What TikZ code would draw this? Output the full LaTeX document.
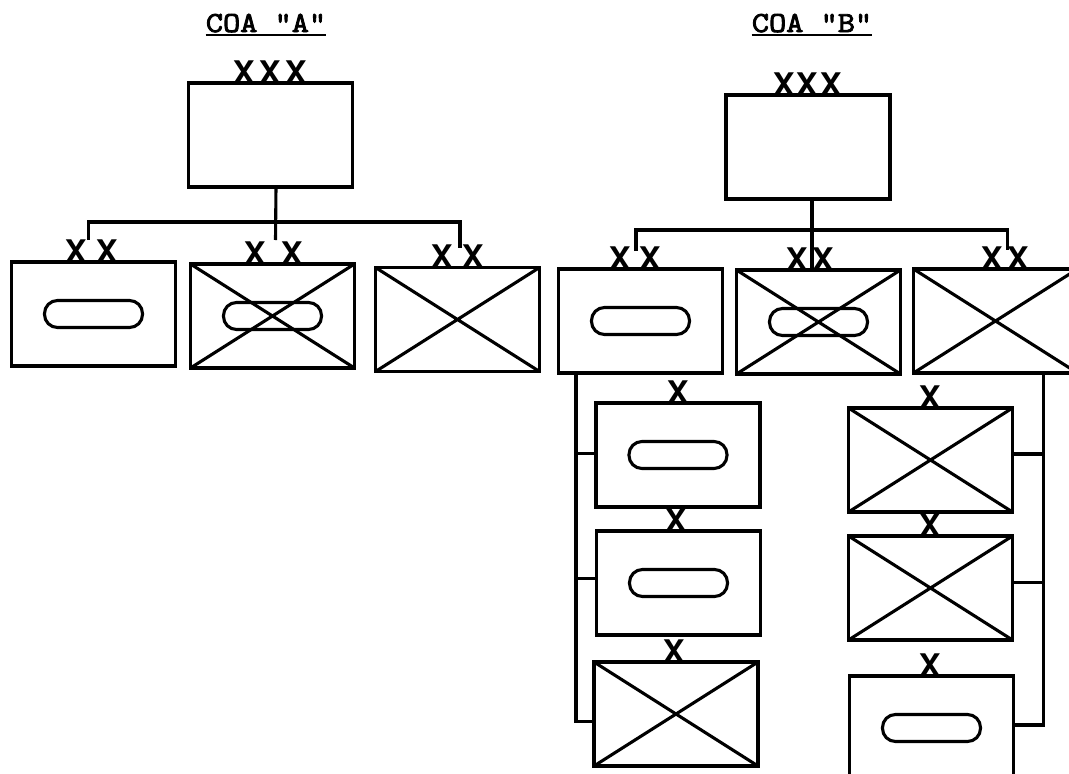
\documentclass[tikz,border=0pt]{standalone}
\usepackage{fontspec}
\usepackage{tikz}
\usetikzlibrary{positioning}
\newfontfamily\echfont{Liberation Mono}
\newfontfamily\coafont{Latin Modern Mono}[FakeBold=3, FakeStretch=1.15]

\newcommand\unitcross{%
  \draw[line width=3.1pt] (path picture bounding box.north west) -- (path picture bounding box.south east)
    (path picture bounding box.south west) -- (path picture bounding box.north east);}
\newcommand\unitoval{%
  \draw[line width=3.1pt, rounded corners=13pt] ([xshift=-49pt,yshift=-13.5pt]path picture bounding box.center)
    rectangle ([xshift=49pt,yshift=13.5pt]path picture bounding box.center);}

\begin{document}
\begin{tikzpicture}[
        x=1pt, y=-1pt,
        unit/.style={
            rectangle, draw, line width=3.2pt,
            minimum width=164pt, minimum height=104pt, inner sep=0pt, outer sep=0pt
        },
        inf/.style={unit, path picture={\unitcross}},
        arm/.style={unit, path picture={\unitoval}},
        mech/.style={unit, path picture={\unitcross\unitoval}},
        ech/.style={font=\echfont\bfseries\fontsize{36}{36}\selectfont, inner sep=0pt, anchor=base},
        title/.style={font=\coafont\fontsize{29}{32}\selectfont, inner sep=0pt, anchor=base},
        line/.style={draw=black, line width=3.1pt}
    ]

    \path[use as bounding box] (0,0) rectangle (1069,774);
    \clip (0,0) rectangle (1069,774);

    % TITLES
    \node[title] (titleA) at (266,32) {COA "A"};
    \node[title] (titleB) at (812,32) {COA "B"};
    \draw[line width=2.2pt] ([yshift=-3pt]titleA.base west) -- ([yshift=-3pt]titleA.base east);
    \draw[line width=2.2pt] ([yshift=-3pt]titleB.base west) -- ([yshift=-3pt]titleB.base east);

    % COA A
    \node[unit] (hqA) at (270.5,135) {};
    \node[mech, below=77pt of hqA, xshift=2pt] (a2) {};
    \node[arm, left=15pt of a2, yshift=2pt] (a1) {};
    \node[inf, right=21pt of a2, yshift=-3.5pt] (a3) {};

    % COA B
    \node[unit] (hqB) at (808,147) {};
    \node[mech, below=71pt of hqB, xshift=10.5pt] (b2) {};
    \node[arm, left=14pt of b2, yshift=1pt] (b1) {};
    \node[inf, right=13pt of b2, yshift=1pt] (b3) {};

    % COA B: ATTACHED UNITS
    \node[arm, below=30pt of b1, xshift=37.5pt] (c1) {};
    \node[arm, below=24pt of c1, xshift=0.5pt] (c2) {};
    \node[inf, below=27pt of c2, xshift=-2.5pt] (c3) {};
    \node[inf, below=35pt of b3, xshift=-65pt] (d1) {};
    \node[inf, below=24pt of d1] (d2) {};
    \node[arm, below=36pt of d2, xshift=1pt] (d3) {};

    % ECHELON MARKS
    \foreach \u/\dx [count=\i] in {hqA/-26, hqA/0, hqA/26, hqB/-24, hqB/-1, hqB/23,
            a1/-17, a1/14, a2/-17.5, a2/19.5, a3/-15.5, a3/15.5,
            b1/-20.5, b1/9.5, b2/-21.5, b2/4.5, b3/-3, b3/23,
            c1/0, c2/-2.5, c3/-2, d1/0, d2/0, d3/-1}
        \node[ech] (ech\i) at ([xshift=\dx pt, yshift=-1pt]\u.north) {X};

    % CONNECT HQ A
    \coordinate[below=35pt of hqA, xshift=5.5pt] (barA);
    \draw[line] ([xshift=5.5pt]hqA.south) -- ([xshift=3pt, yshift=24pt]a2.north);
    \draw[line] ([xshift=-5pt, yshift=22pt]a1.north) |- (barA) -| ([xshift=2.5pt, yshift=20pt]a3.north);

    % CONNECT HQ B
    \coordinate[below=31pt of hqB, xshift=4pt] (barB);
    \draw[line] ([xshift=4pt]hqB.south) -- ([xshift=-6.5pt]b2.north);
    \draw[line] ([xshift=-4.5pt, yshift=18pt]b1.north) |- (barB) -| ([xshift=12pt, yshift=19pt]b3.north);

    % LEFT BUS
    \coordinate (busL) at ([xshift=-64.5pt]b1.south);
    \draw[line] (busL) |- ([yshift=-7.5pt]c3.west);
    \draw[line] ([yshift=1.5pt]c1.west) -- ([yshift=1.5pt]c1.west -| busL);
    \draw[line] ([yshift=4.5pt]c2.west) -- ([yshift=4.5pt]c2.west -| busL);

    % RIGHT BUS
    \coordinate (busR) at ([xshift=48pt]b3.south);
    \draw[line] (busR) |- ([yshift=3pt]d3.east);
    \draw[line] ([yshift=6pt]d1.east) -- ([yshift=6pt]d1.east -| busR);
    \draw[line] ([yshift=5.5pt]d2.east) -- ([yshift=5.5pt]d2.east -| busR);

\end{tikzpicture}
\end{document}
